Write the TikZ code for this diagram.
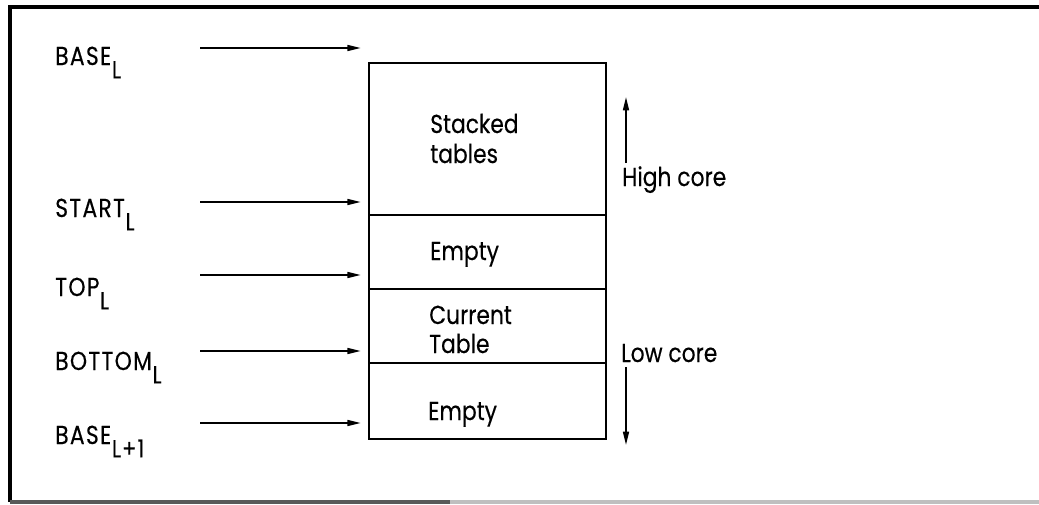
\documentclass[tikz,border=0pt]{standalone}
\usepackage{fontspec}
\setmainfont[FakeStretch=0.84, FakeBold=0.3]{Poppins}
\usetikzlibrary{arrows.meta}

% lowered, slightly smaller index letters as set under the pointer names
\newcommand{\lowidx}[1]{\hspace{0.5pt}\raisebox{-10pt}{\fontsize{18.5}{19}\selectfont #1}}

\tikzset{
  txt/.style={inner sep=0pt, anchor=base west, font=\fontsize{19.5}{23}\selectfont},
  lbl/.style={txt, font=\fontsize{19.5}{23}\selectfont\addfontfeatures{LetterSpace=5}},
  cell/.style={draw, line width=1.9pt, minimum width=177.75pt, inner sep=0pt},
  ptr/.style={line width=1.1pt, -{Triangle[length=10pt,width=4.5pt]}},
  frame/.style={line width=2.3pt},
}

\begin{document}
\begin{tikzpicture}[x=0.75pt, y=-0.75pt]
  \useasboundingbox (0,0) rectangle (1039,504);

  % outer frame (open on the right)
  \draw[frame] (1039,7) -- (10,7) -- (10,502);
  \draw[frame, black!65] (10,502) -- (450,502);
  \draw[frame, black!25] (450,502) -- (1039,502);

  % memory block, top to bottom
  \node[cell, minimum height=114pt]  (stk)  at (487.5,139) {};
  \node[cell, minimum height=55.5pt] (emp1) at (487.5,252) {};
  \node[cell, minimum height=55.5pt] (cur)  at (487.5,326) {};
  \node[cell, minimum height=57pt]   (emp2) at (487.5,401) {};

  % contents of the block
  \node[txt] (s1) at (430,133) {Stacked};
  \node[txt] (s2) at (430,163) {tables};
  \node[txt] (e1) at (430,260) {Empty};
  \node[txt] (c1) at (429,324) {Current};
  \node[txt] (c2) at (429,353) {Table};
  \node[txt] (e2) at (428,420) {Empty};

  % pointer names
  \node[lbl] (baseL)  at (55,65)  {BASE\lowidx{L}};
  \node[lbl] (startL) at (55,217) {START\lowidx{L}};
  \node[lbl] (topL)   at (55,296) {TOP\lowidx{L}};
  \node[lbl] (botL)   at (55,370) {BOTTOM\lowidx{L}};
  \node[lbl] (baseN)  at (55,444) {BASE\lowidx{L+1}};

  % pointer arrows
  \coordinate (p1) at (200,48);
  \coordinate (p2) at (200,202);
  \coordinate (p3) at (200,275);
  \coordinate (p4) at (200,351);
  \coordinate (p5) at (200,423);
  \foreach \p in {p1,p2,p3,p4,p5}
    \draw[ptr, shorten >=5.25pt] (\p) -- (\p -| stk.west);

  % direction of core addresses
  \node[txt] (high) at (622,186) {High core};
  \node[txt] (low)  at (621,362) {Low core};
  \coordinate (u0) at (626,163);
  \coordinate (u1) at (626,97);
  \coordinate (d0) at (626,367);
  \coordinate (d1) at (626,445);
  \draw[ptr] (u0) -- (u1);
  \draw[ptr] (d0) -- (d1);
\end{tikzpicture}
\end{document}
